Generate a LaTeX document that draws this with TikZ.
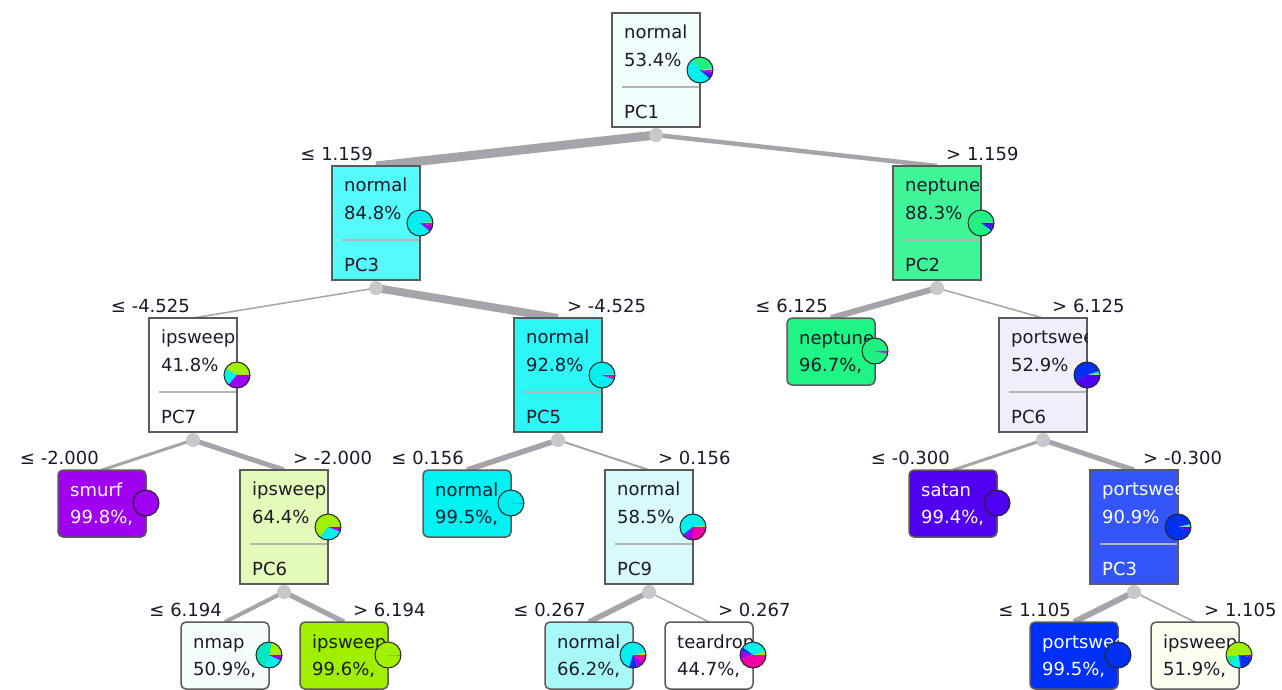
\documentclass[tikz,border=0pt]{standalone}
\usepackage{fontspec}
\setmainfont{DejaVu Sans}
\usetikzlibrary{calc}
\pgfdeclarelayer{bg}
\pgfsetlayers{bg,main}
% class colours
\definecolor{cIps}{HTML}{A0F000}
\definecolor{cNep}{HTML}{20F080}
\definecolor{cNma}{HTML}{00E8C0}
\definecolor{cNor}{HTML}{00F0F0}
\definecolor{cPor}{HTML}{0030F0}
\definecolor{cSat}{HTML}{5000F0}
\definecolor{cSmu}{HTML}{A000F0}
\definecolor{cTea}{HTML}{F000A0}
% node fills
\definecolor{f0}{HTML}{EFFDFD}
\definecolor{f1}{HTML}{55FAFA}
\definecolor{f2}{HTML}{40F598}
\definecolor{f3}{HTML}{FFFFFF}
\definecolor{f4}{HTML}{2CF6F6}
\definecolor{f5}{HTML}{1EF585}
\definecolor{f6}{HTML}{EEEEFC}
\definecolor{f7}{HTML}{A000F0}
\definecolor{f8}{HTML}{E4FAB8}
\definecolor{f9}{HTML}{00F2F2}
\definecolor{f10}{HTML}{D8FAFA}
\definecolor{f11}{HTML}{5000EE}
\definecolor{f12}{HTML}{3355FA}
\definecolor{f13}{HTML}{F4FCFC}
\definecolor{f14}{HTML}{A0EE00}
\definecolor{f15}{HTML}{A8F8F8}
\definecolor{f16}{HTML}{FFFFFF}
\definecolor{f17}{HTML}{0030F5}
\definecolor{f18}{HTML}{FDFDF0}
\definecolor{tc}{HTML}{1A1A2A}
\definecolor{bord}{HTML}{5A5A5A}
\definecolor{sepc}{HTML}{B4B4B4}
\definecolor{edgec}{HTML}{A4A4AA}
\definecolor{dotc}{HTML}{C8C8CC}
\newcommand\fs{\fontsize{18}{20}\selectfont}
\tikzset{
  box/.style={draw=bord, line width=1.5pt, minimum width=88pt, minimum height=114pt,
    inner sep=0pt, outer sep=0pt, anchor=north west},
  leaf/.style={box, minimum height=67pt, rounded corners=5pt},
  txt/.style={inner sep=0pt, anchor=base west, font=\fs},
  lbl/.style={inner sep=0pt, font=\fs, text=tc},
  edge/.style={draw=edgec, line cap=butt},
  dotst/.style={circle, fill=dotc, minimum size=14pt, inner sep=0pt},
  pieb/.style={draw=black!85, line width=1pt},
  sepline/.style={draw=sepc, line width=1.5pt}
}
\newcommand\mypie[2]{%
  \gdef\pieacc{0}%
  \foreach \c/\f in {#2} {%
    \pgfmathsetmacro\pst{\pieacc}%
    \pgfmathsetmacro\pen{\pieacc+\f*360}%
    \fill[\c] (#1) -- ++(-\pst:13) arc[start angle=-\pst, end angle=-\pen, radius=13] -- cycle;
    \xdef\pieacc{\pen}%
  }%
  \draw[pieb] (#1) circle[radius=13];
}
\newcommand\tnode[9]{%
  \node[box, fill=#4] (#1) at (#2,#3) {};
  \begin{scope}
    \clip (#1.north west) rectangle (#1.south east);
    \node[txt, text=#5] (#1t1) at ($(#1.north west)+(12,25)$) {#6};
    \node[txt, text=#5] (#1t2) at ($(#1.north west)+(12,53)$) {#7};
    \node[txt, text=#5] (#1t3) at ($(#1.north west)+(12,105)$) {#8};
  \end{scope}
  \draw[sepline] ($(#1.north west)+(10,74)$) -- ($(#1.north east)+(-1,74)$);
  \node[dotst] (#1d) at ($(#1.south)+(0,8)$) {};
  \coordinate (#1p) at ($(#1.north east)+(0,57)$);
  \mypie{#1p}{#9}
}
\newcommand\lnode[8]{%
  \node[leaf, fill=#4] (#1) at (#2,#3) {};
  \begin{scope}
    \clip[rounded corners=5pt] (#1.north west) rectangle (#1.south east);
    \node[txt, text=#5] (#1t1) at ($(#1.north west)+(12,26)$) {#6};
    \node[txt, text=#5] (#1t2) at ($(#1.north west)+(12,53)$) {#7};
  \end{scope}
  \coordinate (#1p) at ($(#1.north east)+(0,33)$);
  \mypie{#1p}{#8}
}
\newcommand\lle[3]{\node[lbl, anchor=east] (#1) at ($(#2.north)+(-3,-12)$) {#3};}
\newcommand\lgt[3]{\node[lbl, anchor=west] (#1) at ($(#2.north)+(9,-12)$) {#3};}
\begin{document}
\begin{tikzpicture}[x=1pt, y=-1pt]
\useasboundingbox (0,0) rectangle (1282,689);
% level 0
\tnode{n0}{612}{13}{f0}{tc}{normal}{53.4\%}{PC1}{cIps/.02,cNep/.33,cNor/.534,cPor/.03,cSat/.03,cSmu/.036,cTea/.02}
% level 1
\tnode{n1}{332}{166}{f1}{tc}{normal}{84.8\%}{PC3}{cIps/.01,cNep/.03,cNor/.848,cPor/.01,cSat/.01,cSmu/.06,cTea/.032}
\tnode{n2}{893}{166}{f2}{tc}{neptune}{88.3\%}{PC2}{cIps/.005,cNep/.883,cNor/.01,cPor/.05,cSat/.052}
% level 2
\tnode{n3}{149}{318}{f3}{tc}{ipsweep}{41.8\%}{PC7}{cIps/.418,cNma/.02,cNor/.2,cSmu/.362}
\tnode{n4}{514}{318}{f4}{tc}{normal}{92.8\%}{PC5}{cIps/.005,cNep/.01,cNor/.928,cPor/.01,cSmu/.007,cTea/.04}
\lnode{n5}{787}{318}{f5}{tc}{neptune}{96.7\%,}{cNep/.967,cSat/.005,cSmu/.008,cTea/.02}
\tnode{n6}{999}{318}{f6}{tc}{portsweep}{52.9\%}{PC6}{cIps/.01,cNep/.02,cNor/.02,cPor/.529,cSat/.421}
% level 3
\lnode{n7}{58}{470}{f7}{white}{smurf}{99.8\%,}{cSmu/1}
\tnode{n8}{240}{470}{f8}{tc}{ipsweep}{64.4\%}{PC6}{cIps/.644,cNma/.02,cNor/.28,cSmu/.056}
\lnode{n9}{423}{470}{f9}{tc}{normal}{99.5\%,}{cNor/.995,cPor/.005}
\tnode{n10}{605}{470}{f10}{tc}{normal}{58.5\%}{PC9}{cIps/.02,cNor/.585,cPor/.02,cSmu/.12,cTea/.255}
\lnode{n11}{909}{470}{f11}{white}{satan}{99.4\%,}{cSat/1}
\tnode{n12}{1090}{470}{f12}{white}{portsweep}{90.9\%}{PC3}{cIps/.01,cNep/.02,cNor/.01,cPor/.909,cSat/.051}
% level 4
\lnode{n13}{181}{622}{f13}{tc}{nmap}{50.9\%,}{cIps/.21,cNma/.509,cNor/.21,cSmu/.071}
\lnode{n14}{300}{622}{f14}{tc}{ipsweep}{99.6\%,}{cIps/.996,cPor/.004}
\lnode{n15}{545}{622}{f15}{tc}{normal}{66.2\%,}{cIps/.038,cNor/.662,cPor/.1,cSmu/.1,cTea/.1}
\lnode{n16}{665}{622}{f16}{tc}{teardrop}{44.7\%,}{cIps/.05,cNor/.35,cPor/.05,cSmu/.103,cTea/.447}
\lnode{n17}{1030}{622}{f17}{white}{portsweep}{99.5\%,}{cPor/.995,cTea/.005}
\lnode{n18}{1151}{622}{f18}{tc}{ipsweep}{51.9\%,}{cIps/.519,cNep/.1,cNor/.15,cPor/.2,cSmu/.031}
% labels
\lle{l1}{n1}{≤ 1.159}
\lgt{l2}{n2}{> 1.159}
\lle{l3}{n3}{≤ -4.525}
\lgt{l4}{n4}{> -4.525}
\lle{l5}{n5}{≤ 6.125}
\lgt{l6}{n6}{> 6.125}
\lle{l7}{n7}{≤ -2.000}
\lgt{l8}{n8}{> -2.000}
\lle{l9}{n9}{≤ 0.156}
\lgt{l10}{n10}{> 0.156}
\lle{l11}{n11}{≤ -0.300}
\lgt{l12}{n12}{> -0.300}
\lle{l13}{n13}{≤ 6.194}
\lgt{l14}{n14}{> 6.194}
\lle{l15}{n15}{≤ 0.267}
\lgt{l16}{n16}{> 0.267}
\lle{l17}{n17}{≤ 1.105}
\lgt{l18}{n18}{> 1.105}
% connectors
\begin{pgfonlayer}{bg}
\fill[white] (0,0) rectangle (1282,689);
\draw[edge, line width=9pt] (n0d.center) -- (n1.north);
\draw[edge, line width=4.5pt] (n0d.center) -- (n2.north);
\draw[edge, line width=1.5pt] (n1d.center) -- (n3.north);
\draw[edge, line width=8pt] (n1d.center) -- (n4.north);
\draw[edge, line width=6pt] (n2d.center) -- (n5.north);
\draw[edge, line width=1.5pt] (n2d.center) -- (n6.north);
\draw[edge, line width=3pt] (n3d.center) -- (n7.north);
\draw[edge, line width=5pt] (n3d.center) -- (n8.north);
\draw[edge, line width=5.5pt] (n4d.center) -- (n9.north);
\draw[edge, line width=2pt] (n4d.center) -- (n10.north);
\draw[edge, line width=3pt] (n6d.center) -- (n11.north);
\draw[edge, line width=5pt] (n6d.center) -- (n12.north);
\draw[edge, line width=4pt] (n8d.center) -- (n13.north);
\draw[edge, line width=5pt] (n8d.center) -- (n14.north);
\draw[edge, line width=5.5pt] (n10d.center) -- (n15.north);
\draw[edge, line width=1.5pt] (n10d.center) -- (n16.north);
\draw[edge, line width=6pt] (n12d.center) -- (n17.north);
\draw[edge, line width=1.5pt] (n12d.center) -- (n18.north);
\end{pgfonlayer}
\end{tikzpicture}
\end{document}
